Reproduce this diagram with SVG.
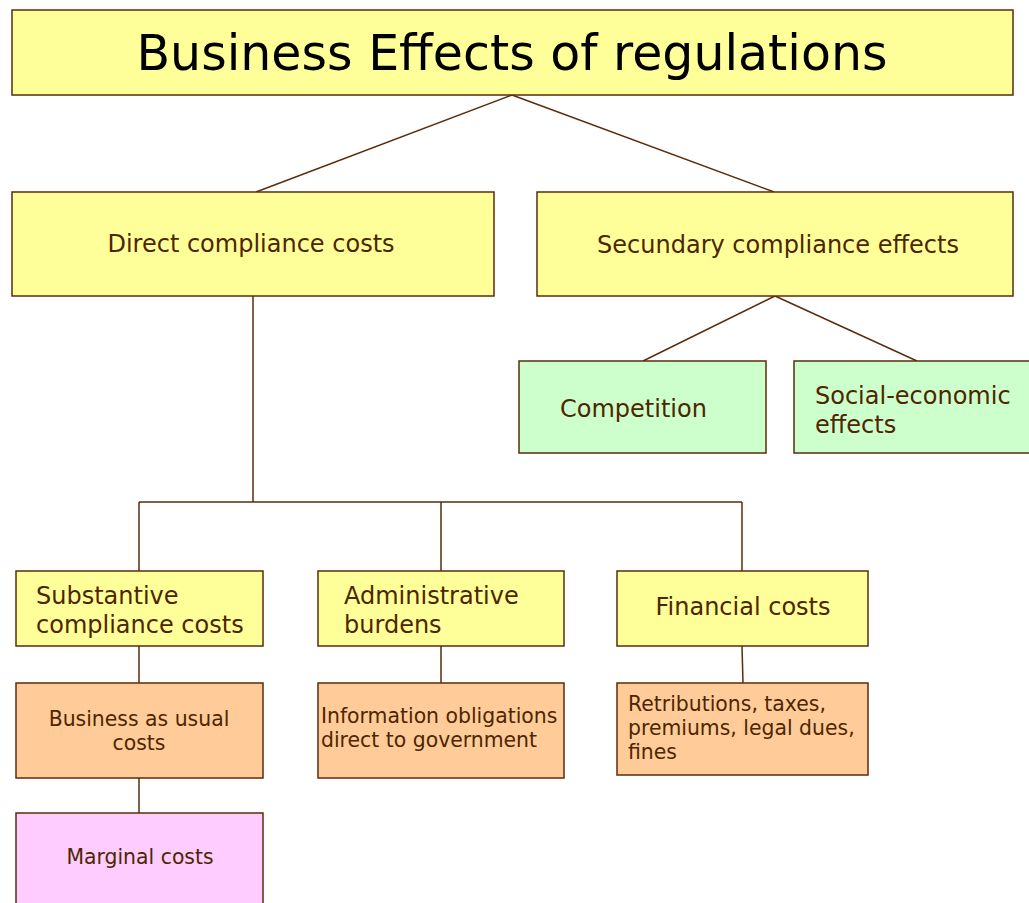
<svg xmlns="http://www.w3.org/2000/svg" width="1029" height="903" viewBox="0 0 1029 903">
<style>
rect{stroke:#5a2d0c;stroke-width:1.5}
.y{fill:#ffff99}.g{fill:#ccffcc}.o{fill:#ffcc99}.p{fill:#ffccff}
text{font-family:"DejaVu Sans",Verdana,sans-serif;fill:#4d2600}
.l{font-size:24px}.s{font-size:20.4px}
.c{text-anchor:middle}
#connectors line{stroke:#5a2d0c;stroke-width:1.5}
</style>
<rect width="1029" height="903" fill="#fff" style="stroke:none"/>
<g id="connectors">
<line x1="512" y1="95" x2="256" y2="192"/>
<line x1="512" y1="95" x2="774" y2="192"/>
<line x1="775" y1="296" x2="643" y2="361"/>
<line x1="775" y1="296" x2="917" y2="361"/>
<line x1="253" y1="296" x2="253" y2="502"/>
<line x1="139" y1="502" x2="742" y2="502"/>
<line x1="139" y1="502" x2="139" y2="571"/>
<line x1="441" y1="502" x2="441" y2="571"/>
<line x1="742" y1="502" x2="742" y2="571"/>
<line x1="139" y1="646" x2="139" y2="683"/>
<line x1="441" y1="646" x2="441" y2="683"/>
<line x1="742" y1="646" x2="743" y2="683"/>
<line x1="139" y1="778" x2="139" y2="813"/>
</g>
<g id="title"><rect class="y" x="12" y="10" width="1001" height="85"/><text x="512" y="70" class="c" style="font-size:49px;fill:#000">Business Effects of regulations</text></g>
<g id="direct"><rect class="y" x="12" y="192" width="482" height="104"/><text x="251" y="252" class="c l">Direct compliance costs</text></g>
<g id="secundary"><rect class="y" x="537" y="192" width="476" height="104"/><text x="778" y="253" class="c l">Secundary compliance effects</text></g>
<g id="competition"><rect class="g" x="519" y="361" width="247" height="92"/><text x="560" y="417" class="l">Competition</text></g>
<g id="social"><rect class="g" x="794" y="361" width="240" height="92"/><text x="815" y="404" class="l">Social-economic</text><text x="815" y="433" class="l">effects</text></g>
<g id="substantive"><rect class="y" x="16" y="571" width="247" height="75"/><text x="36" y="604" class="l">Substantive</text><text x="36" y="633" class="l">compliance costs</text></g>
<g id="administrative"><rect class="y" x="318" y="571" width="246" height="75"/><text x="344" y="604" class="l">Administrative</text><text x="344" y="633" class="l">burdens</text></g>
<g id="financial"><rect class="y" x="617" y="571" width="251" height="75"/><text x="743" y="615" class="c l">Financial costs</text></g>
<g id="bau"><rect class="o" x="16" y="683" width="247" height="95"/><text x="139" y="726" class="c s">Business as usual</text><text x="139" y="750" class="c s">costs</text></g>
<g id="information"><rect class="o" x="318" y="683" width="246" height="95"/><text x="321" y="723" class="s">Information obligations</text><text x="321" y="747" class="s">direct to government</text></g>
<g id="retributions"><rect class="o" x="617" y="683" width="251" height="92"/><text x="628" y="711" class="s">Retributions, taxes,</text><text x="628" y="735" class="s">premiums, legal dues,</text><text x="628" y="759" class="s">fines</text></g>
<g id="marginal"><rect class="p" x="16" y="813" width="247" height="100"/><text x="140" y="864" class="c s">Marginal costs</text></g>
</svg>
